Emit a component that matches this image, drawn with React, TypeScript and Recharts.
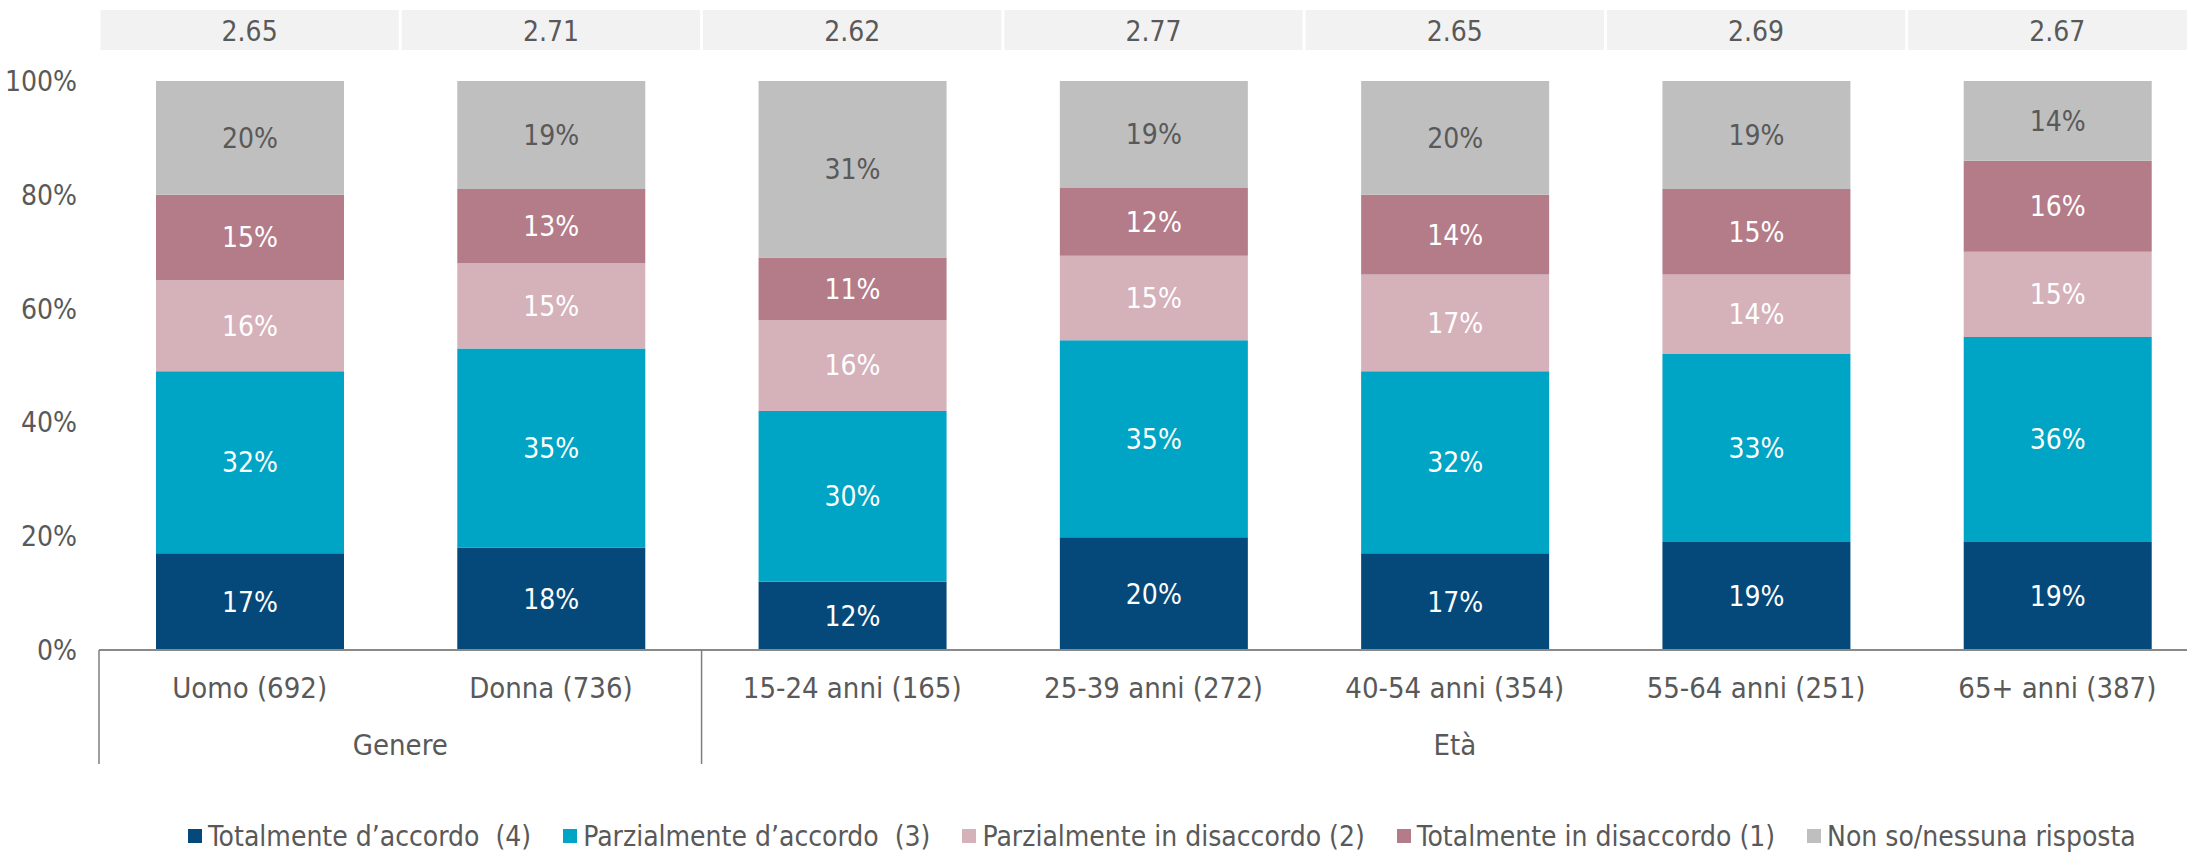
import React from 'react';
import { BarChart, Bar, XAxis, YAxis, LabelList, Legend } from 'recharts';

const categories = [
  'Uomo (692)',
  'Donna (736)',
  '15-24 anni (165)',
  '25-39 anni (272)',
  '40-54 anni (354)',
  '55-64 anni (251)',
  '65+ anni (387)',
];
const averages = ['2.65', '2.71', '2.62', '2.77', '2.65', '2.69', '2.67'];
const groupLabels = ['Genere', 'Età'];
const groupSizes = [2, 5];

const totalmenteAccordo = [17, 18, 12, 20, 17, 19, 19];
const parzialmenteAccordo = [32, 35, 30, 35, 32, 33, 36];
const parzialmenteDisaccordo = [16, 15, 16, 15, 17, 14, 15];
const totalmenteDisaccordo = [15, 13, 11, 12, 14, 15, 16];
const nonSo = [20, 19, 31, 19, 20, 19, 14];

const yTicks = [0, 0.2, 0.4, 0.6, 0.8, 1];

const series = [
  { key: 'ta', name: 'Totalmente d’accordo  (4)', values: totalmenteAccordo, color: '#044979', text: '#ffffff' },
  { key: 'pa', name: 'Parzialmente d’accordo  (3)', values: parzialmenteAccordo, color: '#00a4c4', text: '#ffffff' },
  { key: 'pd', name: 'Parzialmente in disaccordo (2)', values: parzialmenteDisaccordo, color: '#d5b1ba', text: '#ffffff' },
  { key: 'td', name: 'Totalmente in disaccordo (1)', values: totalmenteDisaccordo, color: '#b47b88', text: '#ffffff' },
  { key: 'ns', name: 'Non so/nessuna risposta', values: nonSo, color: '#bfbfbf', text: '#595959' },
];

const data = categories.map((name, i) => {
  const row: any = { name, avg: averages[i] };
  series.forEach((s) => (row[s.key] = s.values[i]));
  return row;
});

const FONT = '"DejaVu Sans Condensed", "DejaVu Sans", sans-serif';
const TEXT = '#595959';
const FS = 28;

// index of the first category of each group
const groupStarts = groupSizes.map((_, g) => groupSizes.slice(0, g).reduce((a, b) => a + b, 0));

const TopTick = (props: any) => {
  const { x, payload, index } = props;
  const half = payload.offset;
  return (
    <g>
      <rect x={x - half + 1.5} y={10} width={half * 2 - 3} height={40} fill="#f2f2f2" />
      <text x={x} y={31} textAnchor="middle" dominantBaseline="central" fill={TEXT} fontSize={FS} fontFamily={FONT}>
        {averages[index]}
      </text>
    </g>
  );
};

const BottomTick = (props: any) => {
  const { x, y, payload, index } = props;
  const half = payload.offset;
  const g = groupStarts.indexOf(index);
  return (
    <g>
      <text x={x} y={y + 38} textAnchor="middle" dominantBaseline="central" fill={TEXT} fontSize={29} fontFamily={FONT}>
        {payload.value}
      </text>
      {g >= 0 && (
        <>
          <line x1={x - half} x2={x - half} y1={y} y2={y + 114} stroke="#7f7f7f" strokeWidth={1.5} />
          <text
            x={x + (groupSizes[g] - 1) * half}
            y={y + 95}
            textAnchor="middle"
            dominantBaseline="central"
            fill={TEXT}
            fontSize={29}
            fontFamily={FONT}
          >
            {groupLabels[g]}
          </text>
        </>
      )}
    </g>
  );
};

const renderLegend = () => (
  <div
    style={{
      display: 'flex',
      alignItems: 'center',
      height: 40,
      paddingLeft: 188,
      fontFamily: FONT,
      fontSize: FS,
      color: TEXT,
    }}
  >
    {series.map((s) => (
      <div key={s.key} style={{ display: 'flex', alignItems: 'center', flexShrink: 0, marginRight: 32, whiteSpace: 'pre' }}>
        <span style={{ display: 'inline-block', width: 14, height: 14, background: s.color, marginRight: 6 }} />
        {s.name}
      </div>
    ))}
  </div>
);

export default function App() {
  return (
    <div style={{ position: 'absolute', left: 0, top: 0, width: 2187, height: 853, overflow: 'hidden', background: '#fff' }}>
      <BarChart
        width={2208}
        height={853}
        data={data}
        stackOffset="expand"
        barSize={188}
        margin={{ top: 10, right: 0, left: 0, bottom: 48 }}
      >
        <XAxis
          xAxisId="top"
          dataKey="name"
          orientation="top"
          height={71}
          axisLine={false}
          tickLine={false}
          tickSize={0}
          tick={<TopTick />}
          interval={0}
        />
        <XAxis
          dataKey="name"
          height={115}
          interval={0}
          tickLine={false}
          tickSize={0}
          tickMargin={0}
          axisLine={{ stroke: '#898989', strokeWidth: 2 }}
          tick={<BottomTick />}
        />
        <YAxis
          width={99}
          domain={[0, 1]}
          ticks={yTicks}
          axisLine={false}
          tickLine={false}
          tickSize={0}
          tickMargin={22}
          tickFormatter={(v: number) => `${Math.round(v * 100)}%`}
          tick={{ fill: TEXT, fontSize: FS, fontFamily: FONT }}
        />
        {series.map((s) => (
          <Bar key={s.key} dataKey={s.key} name={s.name} stackId="a" fill={s.color} isAnimationActive={false}>
            <LabelList
              dataKey={s.key}
              position="center"
              fill={s.text}
              fontSize={FS}
              fontFamily={FONT}
              formatter={(v: any) => `${v}%`}
            />
          </Bar>
        ))}
        <Legend content={renderLegend} verticalAlign="bottom" wrapperStyle={{ top: 816, left: 0, bottom: 'auto' }} />
      </BarChart>
    </div>
  );
}
